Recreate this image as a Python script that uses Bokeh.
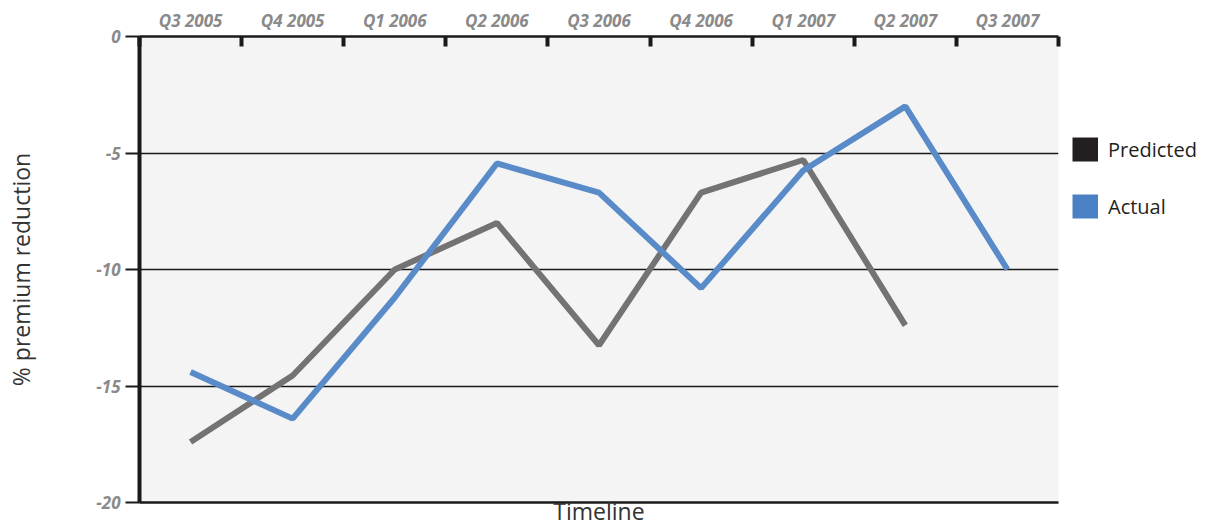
import numpy as np
from bokeh.plotting import figure
from bokeh.layouts import row
from bokeh.models import (Range1d, LinearAxis, FixedTicker, Legend, LegendItem,
                          ColumnDataSource, Grid)
from bokeh.embed import file_html
from bokeh.resources import INLINE

# ---- data ----
quarters = ["Q3 2005", "Q4 2005", "Q1 2006", "Q2 2006", "Q3 2006",
            "Q4 2006", "Q1 2007", "Q2 2007", "Q3 2007"]
predicted = [-17.4, -14.55, -10.0, -8.0, -13.25, -6.7, -5.3, -12.4]
actual = [-14.4, -16.4, -11.2, -5.45, -6.7, -10.8, -5.75, -3.0, -10.0]
y_ticks = [0, -5, -10, -15, -20]
series_names = ["Predicted", "Actual"]
swatch_colors = ["#231f20", "#4a80c4"]
x_title = "Timeline"
y_title = "% premium reduction"

n = len(quarters)
centers = [i + 0.5 for i in range(n)]
bounds = [float(i) for i in range(n + 1)]

pred_src = ColumnDataSource(dict(x=centers[:len(predicted)], y=predicted))
act_src = ColumnDataSource(dict(x=centers[:len(actual)], y=actual))

TICK_FONT = "Open Sans"
TEXT_FONT = "Open Sans"

# ---- main chart ----
p = figure(width=1062, height=530, x_range=Range1d(0, n), y_range=Range1d(-20, 0),
           output_backend="svg", toolbar_location=None,
           x_axis_location=None, y_axis_location=None,
           min_border_left=139, min_border_right=4,
           min_border_top=36, min_border_bottom=28)
p.background_fill_color = "#f4f4f4"
p.border_fill_color = "white"
p.outline_line_color = None
p.center = [r for r in p.center if not isinstance(r, Grid)]

grid = Grid(dimension=1, ticker=FixedTicker(ticks=y_ticks),
            grid_line_color="#1a1a1a", grid_line_width=1.6)
p.add_layout(grid)

p.line("x", "y", source=pred_src, line_color="#737373", line_width=6)
p.line("x", "y", source=act_src, line_color="#5a8bc9", line_width=6)

yax = LinearAxis(ticker=FixedTicker(ticks=y_ticks),
                 major_label_overrides={t: str(t) for t in y_ticks},
                 axis_label=y_title,
                 axis_label_text_font=TEXT_FONT,
                 axis_label_text_font_style="normal",
                 axis_label_text_font_size="23px",
                 axis_label_text_color="#333333",
                 axis_label_standoff=56,
                 axis_line_color="#1a1a1a", axis_line_width=4,
                 major_tick_in=0, major_tick_out=14,
                 major_tick_line_color="#1a1a1a", major_tick_line_width=2,
                 minor_tick_line_color=None,
                 major_label_standoff=5,
                 major_label_text_font=TICK_FONT,
                 major_label_text_font_style="bold italic",
                 major_label_text_font_size="17px",
                 major_label_text_color="#8a8a8a")
p.add_layout(yax, "left")

xtop = LinearAxis(ticker=FixedTicker(ticks=centers, minor_ticks=bounds),
                  major_label_overrides={c: q for c, q in zip(centers, quarters)},
                  axis_line_color="#1a1a1a", axis_line_width=2.5,
                  major_tick_line_color=None, major_tick_in=0, major_tick_out=0,
                  minor_tick_in=10, minor_tick_out=0,
                  minor_tick_line_color="#1a1a1a", minor_tick_line_width=4,
                  major_label_standoff=5,
                  major_label_text_font=TICK_FONT,
                  major_label_text_font_style="bold italic",
                  major_label_text_font_size="17px",
                  major_label_text_color="#8a8a8a")
p.add_layout(xtop, "above")

xbot = LinearAxis(ticker=FixedTicker(ticks=[]),
                  axis_label=x_title,
                  axis_label_text_font=TEXT_FONT,
                  axis_label_text_font_style="normal",
                  axis_label_text_font_size="23px",
                  axis_label_text_color="#333333",
                  axis_label_standoff=-8,
                  axis_line_color="#1a1a1a", axis_line_width=2.5,
                  major_tick_line_color=None, minor_tick_line_color=None,
                  major_label_text_font_size="0px", major_label_standoff=0)
p.add_layout(xbot, "below")

# ---- legend strip (frame aligned with the main chart's frame) ----
pl = figure(width=143, height=530, x_range=Range1d(0, 1), y_range=Range1d(0, 1),
            output_backend="svg", toolbar_location=None,
            x_axis_location=None, y_axis_location=None,
            min_border=0, min_border_left=0, min_border_right=0,
            min_border_top=0, min_border_bottom=0)
pl.outline_line_color = None
pl.background_fill_color = "white"
pl.border_fill_color = "white"
pl.grid.visible = False

items = []
for name, col in zip(series_names, swatch_colors):
    r = pl.line(x=np.array([np.nan]), y=np.array([np.nan]), line_color=col,
                line_width=24, line_cap="butt")
    items.append(LegendItem(label=name, renderers=[r]))
legend = Legend(items=items, location=(10, 282), orientation="vertical",
                glyph_width=26, glyph_height=28, spacing=29, padding=0, margin=0,
                label_standoff=10, label_text_font=TEXT_FONT,
                label_text_font_size="20px", label_text_color="#231f20",
                label_text_baseline="middle",
                border_line_color=None, background_fill_alpha=0)
pl.add_layout(legend)

layout = row(p, pl, spacing=0)
open("out.html", "w").write(file_html(layout, INLINE))
